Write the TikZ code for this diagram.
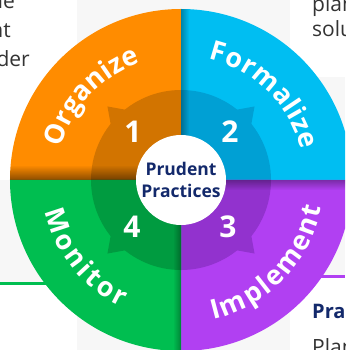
\documentclass[tikz,border=0pt]{standalone}
\usepackage{fontspec}
\setmainfont{Open Sans}
\usetikzlibrary{decorations.text,fadings}

\definecolor{orgO}{HTML}{FF8C00}
\definecolor{orgI}{HTML}{D27400}
\definecolor{forO}{HTML}{00BEF2}
\definecolor{forI}{HTML}{00A0D4}
\definecolor{impO}{HTML}{B140F2}
\definecolor{impI}{HTML}{9232CE}
\definecolor{monO}{HTML}{00BE50}
\definecolor{monI}{HTML}{009B40}
\definecolor{navy}{HTML}{13296B}
\definecolor{panel}{HTML}{F7F7F7}
\definecolor{body}{HTML}{333333}

\tikzset{
  stage/.style={text=white, font=\fontsize{30}{30}\selectfont\bfseries},
  bodytext/.style={text=body, font=\fontsize{21}{21}\selectfont, inner sep=0pt},
  arclabel/.style={decorate, decoration={text along path, text align={fit to path},
    text color=white, text={|\fontsize{27}{27}\selectfont\bfseries|#1}}}
}

\begin{document}
\begin{tikzpicture}[x=1pt,y=1pt]
        \useasboundingbox (-181,-170) rectangle (164,180);
        \clip (-181,-170) rectangle (164,180);
        % page behind the wheel
        \fill[panel] (-104,-170) rectangle (109,180);
        \fill[panel] (-181,0) rectangle (-104,-102);
        \fill[panel] (109,103) rectangle (164,-95);
        \draw[monO, line width=3pt] (-181,-103.5) -- (-100,-103.5);
        \draw[impO, line width=3pt] (100,-96.5) -- (164,-96.5);
        \node[bodytext, anchor=base east] (he) at (-166,171) {he};
        \node[bodytext, anchor=base east] (nt) at (-170,142) {nt};
        \node[bodytext, anchor=base east] (der) at (-151,113) {der};
        \node[bodytext, anchor=base west] (plan) at (131,168) {plan};
        \node[bodytext, anchor=base west] (solu) at (131,143) {solu};
        \node[bodytext, anchor=base west, text=navy, font=\fontsize{20}{20}\selectfont\bfseries] (pra) at (131,-138) {Pra};
        \node[bodytext, anchor=base west] (plan2) at (131,-174) {Plan};
        % the wheel
        \foreach \a/\co/\ci in {90/orgO/orgI, 0/forO/forI, 270/impO/impI, 180/monO/monI}{
          \fill[\co] (0,0) -- (\a:171pt) arc (\a:\a+90:171pt) -- cycle;
          \fill[\ci] (0,0) -- (\a:90pt) arc (\a:\a+90:90pt) -- cycle;
          \fill[\ci] (\a+38:89pt) -- (\a+45:104pt) -- (\a+52:89pt) -- cycle;
        }
        \begin{scope}
          \clip (0,0) circle (171pt);
          \fill[black, opacity=.45, path fading=north] (-171,0) rectangle (0,15);
          \fill[black, opacity=.3, path fading=east] (0,0) rectangle (8,171);
          \fill[black, opacity=.3, path fading=south] (0,0) rectangle (171,-10);
          \fill[black, opacity=.3, path fading=west] (-8,0) rectangle (0,-171);
        \end{scope}
        \node[circle, fill=white, minimum size=90pt, inner sep=0pt, align=center, text=navy,
          font=\fontsize{17.5}{22}\selectfont\bfseries] (hub) at (0,0) {Prudent\\Practices};
        \node[stage] (s1) at (-48,48) {1};
        \node[stage] (s2) at (49,48) {2};
        \node[stage] (s3) at (47,-47) {3};
        \node[stage] (s4) at (-49,-47) {4};
        \path[arclabel=Organize] (165:124pt) arc (165:109:124pt);
        \path[arclabel=Formalize] (77:124pt) arc (77:14:124pt);
        \path[arclabel=Implement] (-77:143pt) arc (-77:-11:143pt);
        \path[arclabel=Monitor] (193:140pt) arc (193:245:140pt);
    \end{tikzpicture}
\end{document}
